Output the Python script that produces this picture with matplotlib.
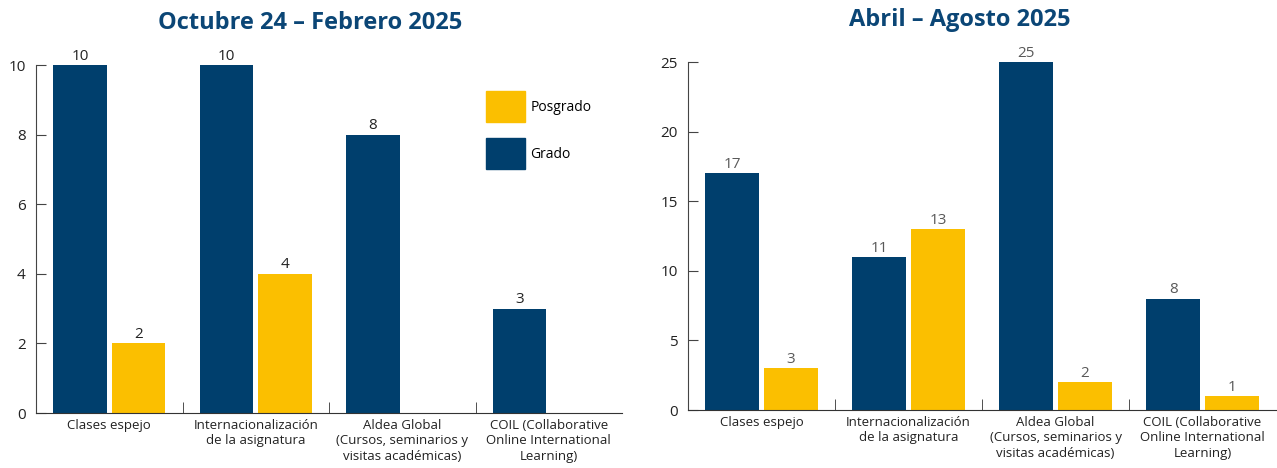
import numpy as np
import matplotlib.pyplot as plt
from matplotlib.patches import Patch

plt.rcParams['font.family'] = ['Open Sans', 'DejaVu Sans']

categories = ['Clases espejo',
              'Internacionalización\nde la asignatura',
              'Aldea Global\n(Cursos, seminarios y\nvisitas académicas)',
              'COIL (Collaborative\nOnline International\nLearning)']

grado_oct = [10, 10, 8, 3]
posgrado_oct = [2, 4, 0, 0]
grado_abr = [17, 11, 25, 8]
posgrado_abr = [3, 13, 2, 1]

NAVY = '#003F6D'
GOLD = '#FBBF00'
TITLE = '#0B4676'

fig = plt.figure(figsize=(12.77, 4.68), dpi=100)
ax1 = fig.add_axes([0.0282, 0.1175, 0.4589, 0.7436])
ax2 = fig.add_axes([0.5388, 0.1239, 0.4605, 0.7436])


def draw(ax, grado, posgrado, ymax, step, title, title_x, lab_color, skip_zero):
    x = np.arange(len(categories))
    w = 0.367
    b1 = ax.bar(x - 0.2, grado, w, color=NAVY)
    b2 = ax.bar(x + 0.2, posgrado, w, color=GOLD)
    for bars, vals in ((b1, grado), (b2, posgrado)):
        labels = ['' if (skip_zero and v == 0) else str(v) for v in vals]
        ax.bar_label(bars, labels=labels, padding=1, fontsize=11, color=lab_color)
    ax.set_xlim(-0.5, len(categories) - 0.5)
    ax.set_ylim(0, ymax)
    ax.set_yticks(np.arange(0, ymax + 1, step))
    ax.set_xticks(x)
    ax.set_xticklabels(categories, fontsize=9.5, color='#222222', linespacing=1.25)
    ax.set_xticks(np.arange(0.5, len(categories) - 0.5, 1), minor=True)
    ax.tick_params(axis='x', which='major', length=0, pad=4)
    ax.tick_params(axis='x', which='minor', direction='in', length=8, color='#333333')
    ax.tick_params(axis='y', direction='in', length=7, labelsize=11,
                   labelcolor='#222222', color='#444444', pad=7.5)
    for s in ['top', 'right']:
        ax.spines[s].set_visible(False)
    ax.spines['left'].set_color('#444444')
    ax.spines['bottom'].set_color('#333333')
    ax.set_title(title, x=title_x, fontsize=17, fontweight='bold', color=TITLE, pad=26)


draw(ax1, grado_oct, posgrado_oct, 10, 2, 'Octubre 24 – Febrero 2025', 0.4676, '#222222', True)
draw(ax2, grado_abr, posgrado_abr, 25, 5, 'Abril – Agosto 2025', 0.4626, '#595959', False)

handles = [Patch(color=GOLD, label='Posgrado'), Patch(color=NAVY, label='Grado')]
ax1.legend(handles=handles, loc='upper left', bbox_to_anchor=(0.768, 0.925),
           frameon=False, fontsize=10, handlelength=2.8, handleheight=3.05,
           labelspacing=1.15, handletextpad=0.4, borderpad=0, borderaxespad=0)

plt.savefig('out.png', dpi=100)
